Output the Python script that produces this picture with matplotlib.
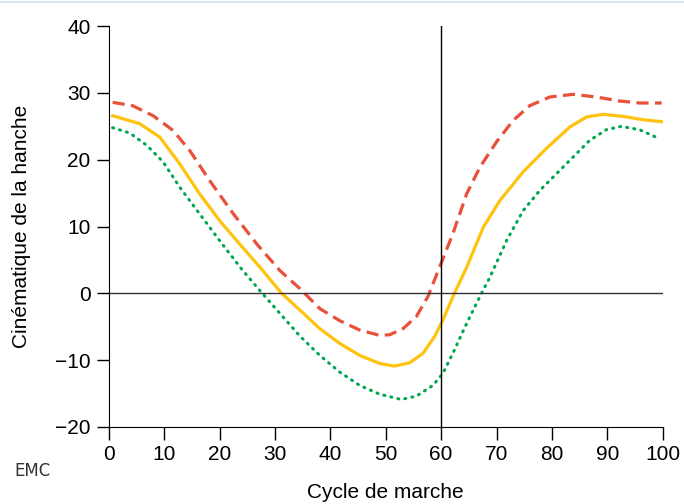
import matplotlib
matplotlib.use('agg')
import matplotlib.pyplot as plt
from matplotlib.lines import Line2D

plt.rcParams['font.family'] = ['Liberation Sans', 'DejaVu Sans']

# courbe moyenne (jaune)
cycle = [0.7, 5.6, 9.2, 11, 12.8, 16.4, 20, 23.6, 27.3, 31.2, 34.5, 38.1, 41.7, 45.3, 48.9,
         51.6, 54.3, 56.7, 58.8, 60.3, 62.5, 64.6, 67.6, 70.6, 74.8, 79, 83.2, 86.2, 89.2,
         92.8, 96.4, 99.8]
moyenne = [26.6, 25.4, 23.4, 21.4, 19.4, 14.9, 10.9, 7.4, 3.9, 0.0, -2.5, -5.3, -7.5, -9.3, -10.5,
           -10.9, -10.4, -9.0, -6.5, -4.0, 0.2, 3.9, 9.9, 13.9, 18.2, 21.7, 24.9, 26.4, 26.8,
           26.5, 26.0, 25.7]

# limite haute (rouge)
cycle_haut = [0.7, 4.3, 8, 11.6, 14.6, 18.2, 22.4, 26.7, 30.9, 34.5, 38.1, 41.7, 45.3, 48.9,
              50.7, 53.1, 55.5, 57.6, 59.7, 62.1, 64.6, 67, 70, 73, 76, 79.6, 83.8, 88, 92.2,
              95.8, 99.8]
haut = [28.6, 28.1, 26.6, 24.4, 21.4, 16.9, 12.0, 7.4, 3.4, 0.7, -2.3, -4.1, -5.5, -6.3,
        -6.2, -5.3, -3.5, -0.5, 3.9, 8.9, 14.9, 18.9, 22.7, 25.9, 28.1, 29.4, 29.8, 29.4, 28.8,
        28.5, 28.5]

# limite basse (vert)
cycle_bas = [0.7, 3.8, 6.8, 9.8, 12.8, 16.4, 20, 24.2, 27.7, 34.5, 38.1, 41.7, 45.3, 48.9,
             52.8, 55.5, 58.5, 60.3, 62.1, 64.6, 67.4, 68.8, 71.8, 74.8, 77.8, 80.8, 83.8, 86.8,
             89.8, 92.5, 95.8, 99]
bas = [24.8, 24.0, 22.2, 19.7, 15.9, 11.9, 7.9, 3.4, 0.0, -6.4, -9.3, -11.8, -13.8, -15.1,
       -15.9, -15.4, -13.8, -12.0, -9.0, -4.5, 0.2, 2.4, 7.9, 12.4, 15.4, 17.9, 20.4, 22.9,
       24.5, 25.0, 24.5, 23.3]

fig = plt.figure(figsize=(6.84, 5.04), dpi=100)
ax = fig.add_axes([0.159, 0.153, 0.81, 0.795])

ax.plot(cycle_haut, haut, color='#E8503A', lw=2.3, dashes=(3.8, 2.0), solid_joinstyle='round')
ax.plot(cycle, moyenne, color='#FFC20E', lw=2.3, solid_joinstyle='round')
ax.plot(cycle_bas, bas, color='#00A651', lw=2.2, dashes=(0.35, 2.0), dash_capstyle='round')

ax.axhline(0, color='#333333', lw=1.0)
ax.axvline(60, color='black', lw=1.0)

ax.set_xlim(0, 100)
ax.set_ylim(-20, 40)
ax.set_xticks(range(0, 101, 10))
ax.set_yticks(range(-20, 41, 10))
ax.set_yticklabels(['\u221220', '\u221210', '0', '10', '20', '30', '40'])
ax.spines['top'].set_visible(False)
ax.spines['right'].set_visible(False)
ax.tick_params(direction='out', length=9, width=1, labelsize=15, colors='black', pad=4)
ax.set_xlabel('Cycle de marche', fontsize=15, labelpad=14)
ax.set_ylabel('Cinématique de la hanche', fontsize=15, labelpad=17)

fig.add_artist(Line2D([0, 1], [0.996, 0.996], color='#dde6f0', lw=1.5))
fig.text(0.047, 0.065, 'EMC', fontsize=12, color='#333333', ha='center', va='center',
         family='Liberation Sans Narrow')

plt.savefig('out.png')
